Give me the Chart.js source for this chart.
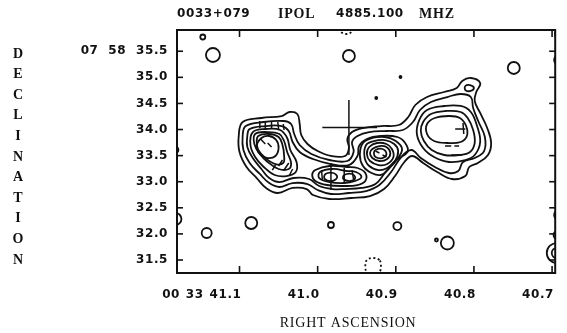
<!DOCTYPE html>
<html>
<head>
<meta charset="utf-8">
<script src="https://cdn.jsdelivr.net/npm/chart.js@4.4.1/dist/chart.umd.min.js"></script>
<style>
  html, body { margin:0; padding:0; background:#fff; }
  #wrap { position:relative; width:567px; height:333px; }
</style>
</head>
<body>
<div id="wrap"><canvas id="map"></canvas></div>
<script>
// ══════════════ 0033+079  IPOL  4885.100 MHZ ══════════════
// RA in seconds of 00h33m, Dec in arcsec of +07°58'

const RA_MIN = 40.696, RA_MAX = 41.180;
const DEC_MIN = 31.251, DEC_MAX = 35.907;

const X_TICKS = [41.1, 41.0, 40.9, 40.8, 40.7];
const X_LABELS = ['00 33 41.1', '41.0', '40.9', '40.8', '40.7'];
const Y_TICKS = [35.5, 35.0, 34.5, 34.0, 33.5, 33.0, 32.5, 32.0, 31.5];
const Y_LABELS = ['07 58 35.5', '35.0', '34.5', '34.0', '33.5', '33.0', '32.5', '32.0', '31.5'];

// envelope contours (whole source)
const ENV_1 = [[41.096,34.144],[41.072,34.221],[41.046,34.259],[41.036,34.336],[41.026,34.297],[41.023,34.106],[41.021,33.895],[41.013,33.723],[41.000,33.588],[40.983,33.493],[40.965,33.493],[40.960,33.646],[40.962,33.818],[40.956,33.952],[40.942,34.029],[40.919,34.067],[40.896,34.087],[40.884,34.240],[40.875,34.470],[40.860,34.623],[40.838,34.719],[40.822,34.796],[40.815,34.930],[40.804,34.987],[40.792,34.891],[40.797,34.719],[40.799,34.546],[40.792,34.317],[40.783,34.029],[40.778,33.742],[40.782,33.512],[40.795,33.359],[40.806,33.282],[40.811,33.109],[40.828,33.052],[40.847,33.186],[40.865,33.359],[40.879,33.493],[40.889,33.378],[40.901,33.109],[40.915,32.860],[40.933,32.726],[40.957,32.688],[40.985,32.669],[41.006,32.745],[41.014,32.860],[41.032,32.880],[41.051,32.784],[41.066,32.880],[41.078,33.071],[41.091,33.282],[41.100,33.569],[41.101,33.876]];
const ENV_2 = [[41.092,34.067],[41.069,34.144],[41.044,34.163],[41.034,34.106],[41.030,33.914],[41.023,33.703],[41.008,33.531],[40.985,33.416],[40.962,33.397],[40.954,33.569],[40.956,33.761],[40.949,33.876],[40.934,33.952],[40.911,33.972],[40.891,33.991],[40.878,34.144],[40.869,34.374],[40.855,34.527],[40.834,34.623],[40.817,34.681],[40.804,34.623],[40.801,34.412],[40.794,34.144],[40.786,33.857],[40.787,33.588],[40.799,33.454],[40.814,33.378],[40.820,33.205],[40.832,33.167],[40.850,33.282],[40.868,33.454],[40.880,33.608],[40.893,33.473],[40.906,33.186],[40.921,32.937],[40.938,32.822],[40.960,32.784],[40.983,32.765],[41.000,32.841],[41.013,32.956],[41.032,32.975],[41.049,32.899],[41.062,32.975],[41.074,33.148],[41.087,33.359],[41.095,33.608],[41.096,33.876]];
const ENV_3 = [[41.087,34.010],[41.067,34.067],[41.046,34.067],[41.037,33.972],[41.032,33.761],[41.023,33.569],[41.006,33.435],[40.983,33.339],[40.960,33.320],[40.949,33.493],[40.947,33.684],[40.937,33.818],[40.919,33.876],[40.898,33.857],[40.888,33.742],[40.885,33.569],[40.901,33.397],[40.915,33.148],[40.926,32.956],[40.944,32.880],[40.965,32.860],[40.981,32.860],[40.998,32.918],[41.011,33.052],[41.031,33.071],[41.049,32.994],[41.062,33.071],[41.072,33.244],[41.083,33.454],[41.090,33.665],[41.090,33.876]];

// eastern knot
const EAST_1 = [[41.083,33.952],[41.066,34.010],[41.048,33.991],[41.039,33.838],[41.035,33.608],[41.027,33.378],[41.028,33.186],[41.040,33.109],[41.055,33.129],[41.069,33.282],[41.080,33.473],[41.086,33.703]];
const EAST_2 = [[41.080,33.914],[41.064,33.952],[41.049,33.914],[41.043,33.780],[41.039,33.569],[41.034,33.359],[41.037,33.244],[41.050,33.244],[41.064,33.378],[41.074,33.531],[41.081,33.723]];
const EAST_3 = [[41.076,33.876],[41.063,33.914],[41.050,33.857],[41.045,33.703],[41.043,33.512],[41.044,33.359],[41.054,33.339],[41.067,33.454],[41.076,33.608],[41.078,33.761]];
const EAST_4 = [[41.072,33.838],[41.062,33.876],[41.053,33.799],[41.050,33.646],[41.054,33.493],[41.064,33.454],[41.074,33.531],[41.078,33.684]];

// bridge
const MID_1 = [[41.003,33.224],[40.985,33.301],[40.962,33.282],[40.949,33.263],[40.939,33.167],[40.939,33.014],[40.949,32.937],[40.966,32.918],[40.988,32.937],[41.003,33.014],[41.007,33.129]];
const MID_2 = [[40.997,33.186],[40.981,33.244],[40.962,33.205],[40.951,33.186],[40.944,33.090],[40.952,33.014],[40.966,32.975],[40.985,32.994],[40.998,33.071]];
const MID_3A = [[40.990,33.148],[40.980,33.167],[40.975,33.090],[40.981,33.014],[40.991,33.052]];
const MID_3B = [[40.966,33.129],[40.956,33.148],[40.952,33.071],[40.958,33.014],[40.967,33.052]];

// core
const CORE_1 = [[40.942,33.742],[40.930,33.838],[40.914,33.857],[40.900,33.780],[40.892,33.627],[40.898,33.435],[40.908,33.263],[40.919,33.129],[40.931,33.167],[40.942,33.301],[40.946,33.512]];
const CORE_2 = [[40.938,33.703],[40.928,33.780],[40.914,33.799],[40.902,33.723],[40.897,33.588],[40.901,33.397],[40.911,33.263],[40.922,33.224],[40.934,33.301],[40.940,33.473]];
const CORE_3 = [[40.934,33.665],[40.924,33.742],[40.912,33.723],[40.905,33.627],[40.903,33.473],[40.911,33.339],[40.922,33.320],[40.933,33.397],[40.937,33.531]];
const CORE_4 = [[40.930,33.627],[40.921,33.684],[40.912,33.665],[40.907,33.550],[40.911,33.435],[40.921,33.397],[40.930,33.454],[40.933,33.550]];
const CORE_5 = [[40.926,33.608],[40.917,33.627],[40.912,33.531],[40.917,33.454],[40.926,33.473],[40.928,33.550]];

// western lobe
const WEST_1 = [[40.870,34.182],[40.860,34.374],[40.838,34.451],[40.817,34.451],[40.804,34.336],[40.796,34.067],[40.792,33.761],[40.799,33.512],[40.811,33.416],[40.832,33.378],[40.851,33.473],[40.865,33.646],[40.873,33.914]];
const WEST_2 = [[40.865,34.144],[40.855,34.297],[40.836,34.355],[40.817,34.336],[40.808,34.221],[40.801,33.991],[40.799,33.742],[40.805,33.569],[40.819,33.512],[40.838,33.512],[40.854,33.608],[40.864,33.780],[40.868,33.972]];
const WEST_3 = [[40.860,34.106],[40.850,34.221],[40.832,34.259],[40.818,34.221],[40.810,34.067],[40.809,33.876],[40.817,33.761],[40.834,33.742],[40.851,33.780],[40.860,33.914]];
const WEST_KNOT = [[40.811,34.834],[40.805,34.853],[40.800,34.796],[40.805,34.738],[40.811,34.757]];

// negative contours
const NEG_NORTH = [[40.954,35.964],[40.957,35.868],[40.963,35.830],[40.970,35.868],[40.972,35.964],[40.970,36.060],[40.963,36.098],[40.957,36.060]];
const NEG_SOUTH = [[40.919,31.385],[40.921,31.500],[40.929,31.538],[40.937,31.500],[40.939,31.385],[40.937,31.270],[40.929,31.232],[40.921,31.270]];

// isolated noise islands
const ISLAND_RA  = [41.147, 41.134, 40.960, 40.894, 40.925, 40.749, 40.691, 40.690, 41.182, 41.182, 41.142, 41.085, 40.983, 40.898, 40.848, 40.834, 40.694, 40.694, 40.693, 40.691];
const ISLAND_DEC = [35.773, 35.428, 35.409, 35.006, 34.604, 35.179, 35.332, 35.830, 33.608, 32.286, 32.017, 32.209, 32.171, 32.151, 31.883, 31.826, 31.634, 31.634, 31.979, 32.362];

// polarisation vectors [ra1, dec1, ra2, dec2]
const POL_VECTORS = [
  [41.074,34.163,41.074,34.029],[41.067,34.163,41.067,34.010],[41.059,34.144,41.059,34.010],
  [41.051,34.144,41.050,34.010],[41.044,34.106,41.043,33.991],[41.073,33.818,41.067,33.723],
  [41.064,33.742,41.059,33.665],[41.045,33.416,41.050,33.301],[41.037,33.359,41.043,33.224],
  [41.032,33.244,41.036,33.129],[41.054,33.320,41.058,33.224],
  [40.983,33.359,40.983,32.841],[40.995,33.224,40.994,33.033],[40.966,33.263,40.966,32.994],
  [40.956,33.224,40.954,33.033],
  [40.926,33.588,40.921,33.550],[40.917,33.512,40.912,33.473],
  [40.824,34.010,40.811,34.010],[40.814,34.125,40.813,33.914],[40.837,33.684,40.829,33.684],
  [40.825,33.684,40.819,33.684],[40.829,33.512,40.815,33.512]
];

// optical position with its error bars
const CROSS_RA = [40.994, 40.960, 40.924];
const CROSS_DEC = [34.566, 34.040, 33.512];

// ── styles ──
const INK = '#111';
const LINE_W = 1.8;
const ISLAND_RADIUS = [2.5, 7, 6, 1, 1, 6, 5, 5, 3, 6, 5, 6, 3, 4, 1.5, 6.5, 10, 5, 4, 5];
const NUM_FONT = 'bold 12px "DejaVu Sans"';
const WORD_FONT = 'bold 14px "Liberation Serif"';

const pt = ([ra, dec]) => ({ x: ra, y: dec });

// closed smooth loop: wrap two extra points and hide the first and last segment
function contour(pts, dashed){
  const data = [...pts, pts[0], pts[1], pts[2]].map(pt);
  const last = data.length - 2;
  return {
    data, showLine:true, tension:0.4, pointRadius:0, fill:false,
    borderColor:INK, borderWidth:LINE_W, borderDash: dashed ? [2,2.5] : [],
    clip:0,
    segment:{ borderColor: c => (c.p0DataIndex === 0 || c.p0DataIndex === last) ? 'rgba(0,0,0,0)' : undefined }
  };
}

function segments(list){
  const data = [];
  list.forEach(([a,b,c,d]) => { data.push({x:a,y:b},{x:c,y:d},{x:c,y:null}); });
  return { data, showLine:true, tension:0, pointRadius:0, borderColor:INK, borderWidth:1.5, spanGaps:false, clip:0 };
}

const datasets = [
  ...[ENV_1, ENV_2, ENV_3, EAST_1, EAST_2, EAST_3, EAST_4,
      MID_1, MID_2, MID_3A, MID_3B,
      CORE_1, CORE_2, CORE_3, CORE_4, CORE_5,
      WEST_1, WEST_2, WEST_3, WEST_KNOT].map(c => contour(c, false)),
  contour(NEG_NORTH, true),
  contour(NEG_SOUTH, true),
  {
    data: ISLAND_RA.map((ra,i) => ({ x:ra, y:ISLAND_DEC[i] })),
    showLine:false, pointRadius:ISLAND_RADIUS, pointStyle:'circle',
    pointBackgroundColor:'rgba(0,0,0,0)', pointBorderColor:INK, pointBorderWidth:LINE_W, clip:0
  },
  segments(POL_VECTORS),
  segments([
    [CROSS_RA[0], CROSS_DEC[1], CROSS_RA[2], CROSS_DEC[1]],
    [CROSS_RA[1], CROSS_DEC[0], CROSS_RA[1], CROSS_DEC[2]]
  ])
];

// frame, inward ticks and all lettering
const mapFrame = {
  id:'mapFrame',
  afterDraw(chart){
    const { ctx, chartArea:a, scales:{ x, y } } = chart;
    const line = (x1,y1,x2,y2) => { ctx.beginPath(); ctx.moveTo(x1,y1); ctx.lineTo(x2,y2); ctx.stroke(); };
    ctx.save();
    ctx.strokeStyle = INK; ctx.fillStyle = INK;
    ctx.lineWidth = 2;
    ctx.strokeRect(a.left, a.top, a.right - a.left, a.bottom - a.top);
    ctx.lineWidth = 1.6;
    X_TICKS.forEach(v => {
      const px = x.getPixelForValue(v);
      line(px, a.top, px, a.top + 7);
      line(px, a.bottom, px, a.bottom - 7);
    });
    Y_TICKS.forEach(v => {
      const py = y.getPixelForValue(v);
      line(a.left, py, a.left + 6, py);
      line(a.right, py, a.right - 6, py);
    });

    ctx.font = NUM_FONT;
    ctx.letterSpacing = '0.6px';
    ctx.textBaseline = 'middle';
    ctx.textAlign = 'right';
    ctx.wordSpacing = '5px';
    Y_TICKS.forEach((v,i) => ctx.fillText(Y_LABELS[i], a.left - 9, y.getPixelForValue(v)));
    ctx.wordSpacing = '1px';
    X_TICKS.forEach((v,i) => ctx.fillText(X_LABELS[i], x.getPixelForValue(v) + 2, a.bottom + 22));

    // title
    ctx.textAlign = 'left';
    ctx.wordSpacing = '0px';
    ctx.fillText('0033+079', 177, 14);
    ctx.fillText('4885.100', 336, 14);
    ctx.font = WORD_FONT;
    ctx.letterSpacing = '0.8px';
    ctx.fillText('IPOL', 278, 14);
    ctx.fillText('MHZ', 419, 14);

    ctx.textAlign = 'center';
    ctx.font = '14px "Liberation Serif"';
    ctx.fillText('RIGHT ASCENSION', (a.left + a.right) / 2 - 18, a.bottom + 50);

    ctx.font = 'bold 14px "Liberation Serif"';
    ctx.letterSpacing = '0px';
    'DECLINATION'.split('').forEach((ch,i) => ctx.fillText(ch, 18, 54 + i * 20.6));
    ctx.restore();
  }
};

new Chart(document.getElementById('map'), {
  type:'scatter',
  data:{ datasets },
  options:{
    responsive:true,
    maintainAspectRatio:false,
    animation:false,
    events:[],
    layout:{ padding:{ left:177, right:11, top:30, bottom:60 } },
    scales:{
      x:{ type:'linear', min:RA_MIN, max:RA_MAX, reverse:true, display:false },
      y:{ type:'linear', min:DEC_MIN, max:DEC_MAX, display:false }
    },
    plugins:{ legend:{ display:false }, tooltip:{ enabled:false } }
  },
  plugins:[mapFrame]
});
</script>
</body>
</html>
